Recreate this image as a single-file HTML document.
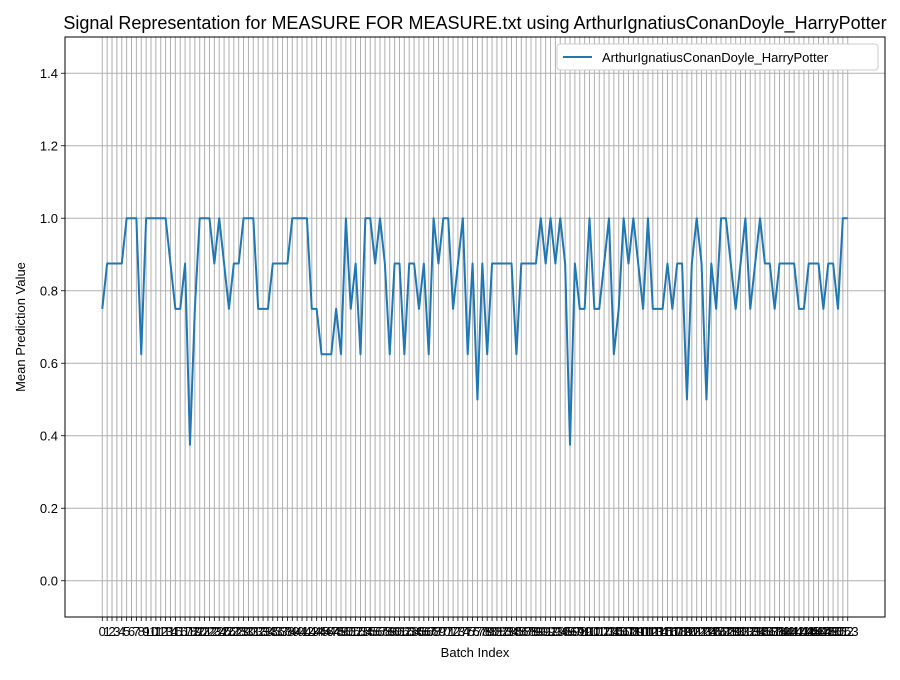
<!DOCTYPE html>
<html><head><meta charset="utf-8"><style>
body{margin:0;background:#fff;}
svg text{font-family:"Liberation Sans","DejaVu Sans",sans-serif;}
</style></head><body>
<svg id="chart" width="900" height="675" xmlns="http://www.w3.org/2000/svg">
<rect width="900" height="675" fill="#fff"/>
<text x="475" y="29" font-size="18" text-anchor="middle">Signal Representation for MEASURE FOR MEASURE.txt using ArthurIgnatiusConanDoyle_HarryPotter</text>
<g id="grid"></g>
<g id="yticks"></g>
<g id="xticks"></g>
<path id="series" fill="none" stroke="#1f77b4" stroke-width="2" stroke-linejoin="round"/>
<rect x="65" y="37" width="820" height="580" fill="none" stroke="#000" stroke-width="1"/>
<text x="475" y="657" font-size="13" text-anchor="middle">Batch Index</text>
<text transform="translate(25,327) rotate(-90)" font-size="13" text-anchor="middle">Mean Prediction Value</text>
<g>
<rect x="557" y="44" width="321" height="26" fill="#fff" stroke="#ccc" rx="3"/>
<line x1="563" y1="57" x2="592" y2="57" stroke="#1f77b4" stroke-width="2"/>
<text x="602" y="62" font-size="13">ArthurIgnatiusConanDoyle_HarryPotter</text>
</g>
</svg>
<script>
const values = [0.75,0.875,0.875,0.875,0.875,1,1,1,0.625,1,1,1,1,1,0.875,0.75,0.75,0.875,0.375,0.75,
1,1,1,0.875,1,0.875,0.75,0.875,0.875,1,1,1,0.75,0.75,0.75,0.875,0.875,0.875,0.875,1,
1,1,1,0.75,0.75,0.625,0.625,0.625,0.75,0.625,1,0.75,0.875,0.625,1,1,0.875,1,0.875,0.625,
0.875,0.875,0.625,0.875,0.875,0.75,0.875,0.625,1,0.875,1,1,0.75,0.875,1,0.625,0.875,0.5,0.875,0.625,
0.875,0.875,0.875,0.875,0.875,0.625,0.875,0.875,0.875,0.875,1,0.875,1,0.875,1,0.875,0.375,0.875,0.75,0.75,
1,0.75,0.75,0.875,1,0.625,0.75,1,0.875,1,0.875,0.75,1,0.75,0.75,0.75,0.875,0.75,0.875,0.875,
0.5,0.875,1,0.875,0.5,0.875,0.75,1,1,0.875,0.75,0.875,1,0.75,0.875,1,0.875,0.875,0.75,0.875,
0.875,0.875,0.875,0.75,0.75,0.875,0.875,0.875,0.75,0.875,0.875,0.75,1,1];
const yTicks = [0.0,0.2,0.4,0.6,0.8,1.0,1.2,1.4];
const NS='http://www.w3.org/2000/svg';
const L=65,R=885,T=37,B=617;
const n=values.length;
const pad=(n-1)*0.05;
const xmin=-pad,xmax=n-1+pad,ymin=-0.1,ymax=1.5;
const xs=i=>L+(i-xmin)/(xmax-xmin)*(R-L);
const ys=v=>B-(v-ymin)/(ymax-ymin)*(B-T);
const grid=document.getElementById('grid'),yt=document.getElementById('yticks'),xt=document.getElementById('xticks');
function mk(tag,attrs,parent){const e=document.createElementNS(NS,tag);for(const k in attrs)e.setAttribute(k,attrs[k]);parent.appendChild(e);return e;}
for(let i=0;i<n;i++){
  const x=xs(i);
  const g=mk('line',{x1:x,x2:x,y1:T,y2:B,stroke:'#b0b0b0','stroke-width':1},grid);
  
  
  mk('line',{x1:x,x2:x,y1:B,y2:B+4,stroke:'#000','stroke-width':0.8},xt);
  const t=mk('text',{x:x,y:B+19,'font-size':13,'text-anchor':'middle'},xt);
  t.textContent=String(i);
  
  
}
yTicks.forEach(v=>{
  const y=ys(v);
  const g=mk('line',{x1:L,x2:R,y1:y,y2:y,stroke:'#b0b0b0','stroke-width':1},grid);
  
  
  mk('line',{x1:L-4,x2:L,y1:y,y2:y,stroke:'#000','stroke-width':0.8},yt);
  const t=mk('text',{x:L-7,y:y+4.5,'font-size':13,'text-anchor':'end'},yt);
  t.textContent=v.toFixed(1);
  
  
});
document.getElementById('series').setAttribute('d',values.map((v,i)=>(i?'L':'M')+xs(i).toFixed(2)+','+ys(v).toFixed(2)).join(''));
</script>
</body></html>
